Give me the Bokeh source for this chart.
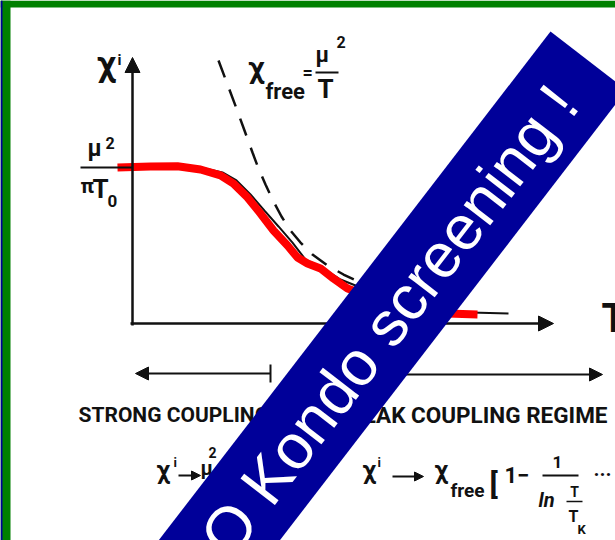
import math

from bokeh.embed import file_html
from bokeh.models import (Arrow, BoxAnnotation, Label, NormalHead, PolyAnnotation,
                          Range1d, TeeHead)
from bokeh.plotting import figure
from bokeh.resources import INLINE

# ---------------------------------------------------------------------------
# Susceptibility of a magnetic impurity vs temperature (schematic units:
# chi in units of mu^2/(pi T0), T in arbitrary units)
# ---------------------------------------------------------------------------
t_kondo = [-0.375, 0.45, 1.125, 1.7, 2.2, 2.525, 2.875, 3.2, 3.525, 3.875,
           4.125, 4.375, 4.7, 5.025, 5.375, 6.2, 6.95, 7.875, 8.625]
chi_kondo = [1.0, 1.006, 1.008, 0.987, 0.949, 0.897, 0.808, 0.705, 0.596, 0.5,
             0.423, 0.385, 0.353, 0.288, 0.224, 0.147, 0.096, 0.064, 0.058]

t_exact = [0.0, 1.7, 2.25, 2.6, 2.95, 3.3, 3.65, 4.0, 4.325, 4.7, 5.2, 5.7,
           6.45, 7.45, 8.45, 9.4]
chi_exact = [1.0, 1.0, 0.968, 0.917, 0.827, 0.724, 0.622, 0.519, 0.41, 0.365,
             0.282, 0.231, 0.154, 0.096, 0.071, 0.064]

t_free = [2.15, 2.375, 2.6, 2.8, 3.0, 3.15, 3.325, 3.525, 3.725, 3.95, 4.2,
          4.5, 4.875, 5.275, 5.7, 6.2, 6.95, 7.7]
chi_free = [1.686, 1.532, 1.378, 1.237, 1.096, 0.994, 0.891, 0.782, 0.686,
            0.596, 0.519, 0.442, 0.372, 0.314, 0.263, 0.212, 0.154, 0.109]

# ---------------------------------------------------------------------------
# canvas geometry
# ---------------------------------------------------------------------------
W, H = 615, 540
X0, Y0 = 132, 323          # canvas position of the axes origin
SX, SY = 40.0, 156.0       # pixels per unit of T and chi


def at(x, y):
    """canvas pixel position -> data coordinates"""
    return (x - X0) / SX, (Y0 - y) / SY


x_lo, y_hi = at(0, 0)
x_hi, y_lo = at(W, H)

p = figure(width=W, height=H, x_range=Range1d(x_lo, x_hi), y_range=Range1d(y_lo, y_hi),
           x_axis_location=None, y_axis_location=None, min_border=0,
           toolbar_location=None, output_backend="svg")
p.grid.visible = False
p.outline_line_color = None
p.background_fill_color = "white"
p.border_fill_color = "white"

INK = "#111111"
SCAN_FONT = "Roboto"
# the svg text anchor sits about this fraction of the font size above the
# alphabetic baseline, so labels are placed from their baseline with it
MID = 0.36

# --- curves ----------------------------------------------------------------
p.line(t_free, chi_free, line_color=INK, line_width=2.5, line_dash="18 13")
p.line(t_exact, chi_exact, line_color=INK, line_width=2)
p.line(t_kondo, chi_kondo, line_color="#ff0000", line_width=8)


def seg(x0, y0, x1, y1, w=2):
    a, b = at(x0, y0)
    c, d = at(x1, y1)
    p.segment(x0=[a], y0=[b], x1=[c], y1=[d], line_color=INK, line_width=w)


def arrow(x0, y0, x1, y1, w=2.5, head=14, tee=None):
    a, b = at(x0, y0)
    c, d = at(x1, y1)
    arr = Arrow(x_start=a, y_start=b, x_end=c, y_end=d, line_color=INK, line_width=w,
                end=NormalHead(size=head, fill_color=INK, line_color=INK),
                start=TeeHead(size=tee, line_color=INK, line_width=2) if tee else None)
    p.add_layout(arr)


# axes
arrow(132, 325, 132, 57, w=2.5, head=15)
arrow(130, 323, 553, 323, w=2.5, head=15)
# level mu^2/(pi T0)
seg(80, 167, 132, 167)

# regime arrows
arrow(270, 373, 135, 373, w=2, head=13, tee=18)
arrow(300, 374, 602, 374, w=2, head=13)


def txt(s, x, y, size, align="left", style="bold", font=SCAN_FONT):
    """label whose alphabetic baseline lies at canvas row y"""
    a, b = at(x, y - MID * size)
    p.add_layout(Label(x=a, y=b, text=s, text_font=font,
                       text_font_size=f"{size}px", text_color=INK,
                       text_font_style=style,
                       text_align=align, text_baseline="alphabetic"))


# y-axis label
txt("χ", 106, 77, 35, "center")
txt("i", 117, 65, 15)
# level label mu^2 / pi T0
txt("μ", 87, 156, 23)
txt("2", 105, 148, 16)
txt("π", 80, 193, 21)
txt("T", 92, 198, 26)
txt("0", 107, 207, 17)
# free-spin curve label
txt("χ", 256, 78, 30, "center")
txt("free", 265, 99, 22)
txt("=", 302, 78, 18)
txt("μ", 315, 62, 22)
txt("2", 336, 47, 16)
seg(315, 72, 338, 72)
txt("T", 325, 98, 26, "center")
# T axis label
txt("T", 601, 332, 40)

# regimes
txt("STRONG COUPLING", 78, 422, 21)
txt("WEAK COUPLING REGIME", 607, 423, 22.5, "right")

# strong coupling limit
txt("χ", 163, 479, 25, "center")
txt("i", 173, 467, 13)
arrow(178, 475, 200, 475, w=2, head=9)
txt("μ", 200, 475, 20)
txt("2", 208, 457, 14)

# weak coupling limit
txt("χ", 369, 479, 25, "center")
txt("i", 377, 467, 13)
arrow(392, 476, 423, 476, w=2, head=9)
txt("χ", 441, 479, 25, "center")
txt("free", 450, 497, 19)
txt("[", 489, 494, 30)
txt("1−", 504, 482, 22)
txt("1", 557, 468, 17, "center")
seg(542, 475, 578, 475)
txt("ln", 538, 507, 20, style="bold italic")
txt("T", 574, 497, 14, "center")
seg(566, 501, 582, 501, w=1.5)
txt("T", 573, 522, 16, "center")
txt("K", 577, 534, 13)
txt("···", 593, 481, 20)

# --- banner ------------------------------------------------------------------
ANG = 52.4                      # degrees, counter-clockwise
BAND = 96                       # banner thickness in pixels
LEN = 800
cx, cy = 550, 31                # upper corner of the banner
ux, uy = -math.cos(math.radians(ANG)), math.sin(math.radians(ANG))   # along, down-left
nx, ny = math.sin(math.radians(ANG)), math.cos(math.radians(ANG))    # across, down-right
corners = [(cx, cy), (cx + BAND * nx, cy + BAND * ny),
           (cx + BAND * nx + LEN * ux, cy + BAND * ny + LEN * uy),
           (cx + LEN * ux, cy + LEN * uy)]
pts = [at(x, y) for x, y in corners]
p.add_layout(PolyAnnotation(xs=[q[0] for q in pts], ys=[q[1] for q in pts],
                            fill_color="#000099", fill_alpha=1.0, line_alpha=0,
                            level="overlay"))
# end of the caption, placed on the banner's mid line
bx, by = at(563.7, 92.6)
p.add_layout(Label(x=bx, y=by, text="O Kondo screening !", angle=ANG, angle_units="deg",
                   text_font="Liberation Sans", text_font_size="63px",
                   text_color="white", text_align="right", text_baseline="alphabetic",
                   level="overlay"))

# --- frame ---------------------------------------------------------------------
p.add_layout(BoxAnnotation(bottom=at(0, 7)[1], fill_color="#008000", fill_alpha=1.0,
                           line_alpha=0, level="overlay"))
p.add_layout(BoxAnnotation(right=at(10, 0)[0], fill_color="#008000", fill_alpha=1.0,
                           line_alpha=0, level="overlay"))
p.add_layout(BoxAnnotation(right=at(2, 0)[0], fill_color="#000099", fill_alpha=1.0,
                           line_alpha=0, level="overlay"))

open("out.html", "w").write(file_html(p, INLINE))
